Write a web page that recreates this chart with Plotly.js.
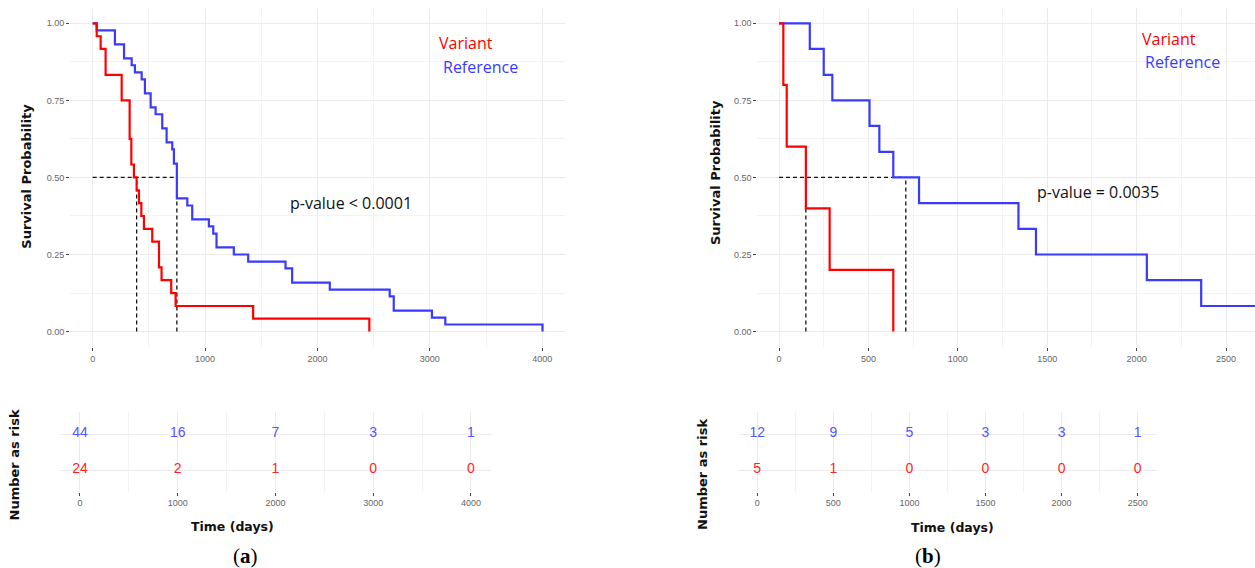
<!DOCTYPE html>
<html>
<head>
<meta charset="utf-8">
<script src="https://cdn.plot.ly/plotly-3.0.1.min.js"></script>
<style>html,body{margin:0;padding:0;background:#fff;}#chart{width:1255px;height:568px;}</style>
</head>
<body>
<div id="chart"></div>
<script>
// ---------- data (a) ----------
const aVariantTime = [0, 36, 71, 115, 258, 329, 344, 367, 391, 412, 433, 456, 530, 590, 613, 699, 738, 1428, 2462];
const aVariantSurv = [1, 0.958, 0.917, 0.833, 0.75, 0.625, 0.542, 0.5, 0.458, 0.417, 0.375, 0.333, 0.292, 0.208, 0.167, 0.125, 0.083, 0.042, 0];
const aReferenceTime = [0, 36, 198, 279, 347, 376, 436, 465, 516, 560, 619, 658, 708, 723, 749, 842, 886, 1034, 1073, 1102, 1256, 1384, 1716, 1775, 2110, 2643, 2679, 3019, 3138, 4003];
const aReferenceSurv = [1, 0.977, 0.932, 0.886, 0.864, 0.841, 0.818, 0.773, 0.727, 0.705, 0.659, 0.614, 0.591, 0.545, 0.432, 0.409, 0.364, 0.341, 0.318, 0.273, 0.25, 0.227, 0.205, 0.159, 0.136, 0.114, 0.068, 0.045, 0.023, 0];
const aMedians = [391, 749];            // Variant, Reference
const aPValue = "p-value < 0.0001";
const aRiskTimes = [0, 1000, 2000, 3000, 4000];
const aRiskReference = [44, 16, 7, 3, 1];
const aRiskVariant = [24, 2, 1, 0, 0];

// ---------- data (b) ----------
const bVariantTime = [0, 24, 43, 150, 283, 639];
const bVariantSurv = [1, 0.8, 0.6, 0.4, 0.2, 0];
const bReferenceTime = [0, 172, 250, 298, 506, 561, 639, 783, 1339, 1437, 2057, 2361, 2662];
const bReferenceSurv = [1, 0.917, 0.833, 0.75, 0.667, 0.583, 0.5, 0.417, 0.333, 0.25, 0.167, 0.083, 0.083];
const bMedians = [150, 709];
const bPValue = "p-value = 0.0035";
const bRiskTimes = [0, 500, 1000, 1500, 2000, 2500];
const bRiskReference = [12, 9, 5, 3, 3, 1];
const bRiskVariant = [5, 1, 0, 0, 0, 0];

const groupNames = ["Variant", "Reference"];
const riskRows = {Variant: 1, Reference: 2};

// ---------- styles ----------
const RED = "#ff0000", BLUE = "#3a3aff";
const RED_T = "#ff1f1f", BLUE_T = "#5454ff";
const W = 1255, H = 568;
const px = v => v / W, py = v => 1 - v / H;

function curve(x, y, color, xa, ya) {
  return {type: "scatter", mode: "lines", x: x, y: y, xaxis: xa, yaxis: ya,
    line: {shape: "hv", color: color, width: 2.2}, hoverinfo: "skip"};
}
function medianLines(meds, xa, ya) {
  const out = [];
  const maxMed = Math.max.apply(null, meds);
  out.push({type: "scatter", mode: "lines", x: [0, maxMed], y: [0.5, 0.5], xaxis: xa, yaxis: ya,
    line: {color: "#111", width: 1.3, dash: "4px,3px"}, hoverinfo: "skip"});
  meds.forEach(m => out.push({type: "scatter", mode: "lines", x: [m, m], y: [0, 0.5], xaxis: xa, yaxis: ya,
    line: {color: "#111", width: 1.3, dash: "4px,3px"}, hoverinfo: "skip"}));
  return out;
}
function riskText(times, vals, row, color, xa, ya) {
  return {type: "scatter", mode: "text", x: times, y: times.map(() => row), text: vals.map(String),
    xaxis: xa, yaxis: ya, textposition: "middle center", cliponaxis: false,
    textfont: {family: "Liberation Sans, Arial, sans-serif", size: 14, color: color}, hoverinfo: "skip"};
}

const data = [
  ...medianLines(aMedians, "x", "y"),
  curve(aReferenceTime, aReferenceSurv, BLUE, "x", "y"),
  curve(aVariantTime, aVariantSurv, RED, "x", "y"),
  ...medianLines(bMedians, "x2", "y2"),
  curve(bReferenceTime, bReferenceSurv, BLUE, "x2", "y2"),
  curve(bVariantTime, bVariantSurv, RED, "x2", "y2"),
  riskText(aRiskTimes, aRiskReference, riskRows.Reference, BLUE_T, "x3", "y3"),
  riskText(aRiskTimes, aRiskVariant, riskRows.Variant, RED_T, "x3", "y3"),
  riskText(bRiskTimes, bRiskReference, riskRows.Reference, BLUE_T, "x4", "y4"),
  riskText(bRiskTimes, bRiskVariant, riskRows.Variant, RED_T, "x4", "y4")
];

const GRID = "#ebebeb";
const tickFont = {family: "Liberation Sans, Arial, sans-serif", size: 9, color: "#666"};
function xAxis(domain, range, dtick, minorDtick, anchor) {
  return {domain: domain, range: range, anchor: anchor, tick0: 0, dtick: dtick,
    showgrid: true, gridcolor: GRID, gridwidth: 1, zeroline: false, showline: false,
    ticks: "outside", ticklen: 3, tickwidth: 1, tickcolor: "#444", tickfont: tickFont,
    minor: {dtick: minorDtick, showgrid: true, gridcolor: "#f0f0f0", gridwidth: 0.8, ticks: ""}};
}
function yAxisSurv(anchor) {
  return {domain: [py(347), py(7.9)], range: [-0.05, 1.05], anchor: anchor, tick0: 0, dtick: 0.25,
    tickformat: ".2f", showgrid: true, gridcolor: GRID, gridwidth: 1, zeroline: false, showline: false,
    ticks: "outside", ticklen: 3, tickwidth: 1, tickcolor: "#444", tickfont: tickFont,
    minor: {dtick: 0.125, showgrid: true, gridcolor: "#f0f0f0", gridwidth: 0.8, ticks: ""}};
}
function yAxisRisk(anchor) {
  return {domain: [py(491.6), py(412.4)], range: [0.4, 2.6], anchor: anchor, tickvals: [1, 2],
    showticklabels: false, ticks: "", showgrid: true, gridcolor: GRID, gridwidth: 1, zeroline: false, showline: false};
}

const boldFont = (s) => ({family: "DejaVu Sans, sans-serif", size: s, color: "#111"});
const annFont = (c) => ({family: "Open Sans, Noto Sans, sans-serif", size: 16, color: c});

function ann(text, x, y, xref, yref, font, extra) {
  return Object.assign({text: text, x: x, y: y, xref: xref, yref: yref, showarrow: false,
    xanchor: "center", yanchor: "middle", font: font}, extra || {});
}

const annotations = [
  ann(groupNames[0], 3321, 0.936, "x", "y", annFont(RED)),
  ann(groupNames[1], 3447, 0.858, "x", "y", annFont(BLUE)),
  ann(aPValue, 2298, 0.417, "x", "y", annFont("#111")),
  ann(groupNames[0], 2181, 0.949, "x2", "y2", annFont(RED)),
  ann(groupNames[1], 2254, 0.875, "x2", "y2", annFont(BLUE)),
  ann(bPValue, 1784, 0.453, "x2", "y2", annFont("#111")),
  ann("<b>Survival Probability</b>", px(27), py(176.7), "paper", "paper", boldFont(13), {textangle: -90}),
  ann("<b>Survival Probability</b>", px(715), py(173), "paper", "paper", boldFont(13), {textangle: -90}),
  ann("<b>Number as risk</b>", px(13.5), py(465), "paper", "paper", boldFont(13), {textangle: -90}),
  ann("<b>Number as risk</b>", px(702), py(475), "paper", "paper", boldFont(13), {textangle: -90}),
  ann("<b>Time (days)</b>", px(232.5), py(526.7), "paper", "paper", boldFont(12.5)),
  ann("<b>Time (days)</b>", px(953), py(527), "paper", "paper", boldFont(12.5)),
  ann("(<b>a</b>)", px(246), py(556), "paper", "paper", {family: "Liberation Serif, serif", size: 21, color: "#000"}),
  ann("(<b>b</b>)", px(928), py(556), "paper", "paper", {family: "Liberation Serif, serif", size: 21, color: "#000"})
];

const layout = {
  width: W, height: H, margin: {l: 0, r: 0, t: 0, b: 0},
  paper_bgcolor: "#fff", plot_bgcolor: "#fff", showlegend: false,
  font: {family: "Liberation Sans, Arial, sans-serif"},
  xaxis: xAxis([px(70.2), px(565)], [-200, 4203], 1000, 500, "y"),
  yaxis: yAxisSurv("x"),
  xaxis2: xAxis([px(757.4), 1], [-121, 2662], 500, 250, "y2"),
  yaxis2: yAxisSurv("x2"),
  xaxis3: xAxis([px(60.4), px(490.8)], [-200, 4203], 1000, 500, "y3"),
  yaxis3: yAxisRisk("x3"),
  xaxis4: xAxis([px(739), px(1157)], [-120, 2627], 500, 250, "y4"),
  yaxis4: yAxisRisk("x4"),
  annotations: annotations
};

Plotly.newPlot("chart", data, layout, {staticPlot: true, displayModeBar: false});
</script>
</body>
</html>
